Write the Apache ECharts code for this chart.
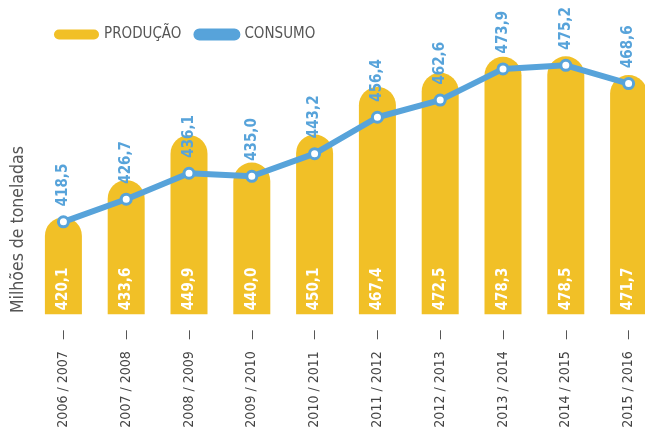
<!DOCTYPE html>
<html>
<head>
<meta charset="utf-8">
<script src="https://cdn.jsdelivr.net/npm/echarts@6/dist/echarts.min.js"></script>
<style>
  html, body { margin: 0; padding: 0; background: #fff; }
  #chart { width: 645px; height: 431px; }
</style>
</head>
<body>
<div id="chart"></div>
<script>
var categories = ["2006 / 2007", "2007 / 2008", "2008 / 2009", "2009 / 2010", "2010 / 2011",
  "2011 / 2012", "2012 / 2013", "2013 / 2014", "2014 / 2015", "2015 / 2016"];
var producao = [420.1, 433.6, 449.9, 440.0, 450.1, 467.4, 472.5, 478.3, 478.5, 471.7];
var consumo = [418.5, 426.7, 436.1, 435.0, 443.2, 456.4, 462.6, 473.9, 475.2, 468.6];

var FONT = "'Liberation Sans Narrow', 'DejaVu Sans Condensed', 'Roboto', sans-serif";
var YELLOW = "#F1C027";
var BLUE = "#57A3DA";
var pill = "path://M5,0 H40 A5,5 0 0 1 40,10 H5 A5,5 0 0 1 5,0 Z";

function fmt(p) {
  return p.value.toFixed(1).replace(".", ",");
}

var chart = echarts.init(document.getElementById("chart"));
chart.setOption({
  animation: false,
  textStyle: { fontFamily: FONT },
  legend: {
    left: 49,
    top: 22,
    itemWidth: 45,
    itemHeight: 10,
    itemGap: 12,
    textStyle: { fontFamily: FONT, fontSize: 15, color: "#555" },
    data: [
      { name: "PRODUÇÃO", icon: pill, itemStyle: { color: YELLOW } },
      { name: "CONSUMO", icon: pill, itemStyle: { color: BLUE } }
    ]
  },
  graphic: [{
    type: "text",
    x: 18,
    y: 313,
    rotation: Math.PI / 2,
    style: {
      text: "Milhões de toneladas",
      fontFamily: FONT,
      fontSize: 17.5,
      fill: "#555",
      align: "left",
      verticalAlign: "middle"
    }
  }],
  grid: { left: 32, width: 628, top: 10.7, bottom: 116.7, outerBoundsMode: "none", containLabel: false },
  xAxis: {
    type: "category",
    data: categories,
    offset: 16,
    axisLine: { show: false },
    axisTick: { show: true, alignWithLabel: true, length: 9, lineStyle: { color: "#555", width: 1 } },
    axisLabel: {
      rotate: 90,
      margin: 21,
      fontFamily: FONT,
      fontSize: 14,
      color: "#444"
    }
  },
  yAxis: {
    type: "value",
    min: 385,
    max: 495,
    show: false,
    splitLine: { show: false }
  },
  series: [
    {
      name: "PRODUÇÃO",
      type: "bar",
      data: producao,
      barWidth: 37,
      itemStyle: { color: YELLOW, borderRadius: [18.5, 18.5, 0, 0] },
      label: {
        show: true,
        position: "insideBottom",
        rotate: 90,
        align: "left",
        verticalAlign: "middle",
        distance: 4,
        formatter: fmt,
        fontFamily: FONT,
        fontWeight: "bold",
        fontSize: 15,
        color: "#fff"
      },
      z: 1
    },
    {
      name: "CONSUMO",
      type: "line",
      data: consumo,
      symbol: "circle",
      symbolSize: 10,
      lineStyle: { color: BLUE, width: 6 },
      itemStyle: { color: "#fff", borderColor: BLUE, borderWidth: 3 },
      label: {
        show: true,
        position: "top",
        rotate: 90,
        align: "left",
        verticalAlign: "middle",
        distance: 9,
        formatter: fmt,
        fontFamily: FONT,
        fontWeight: "bold",
        fontSize: 15,
        color: BLUE
      },
      z: 3
    }
  ]
});
</script>
</body>
</html>
